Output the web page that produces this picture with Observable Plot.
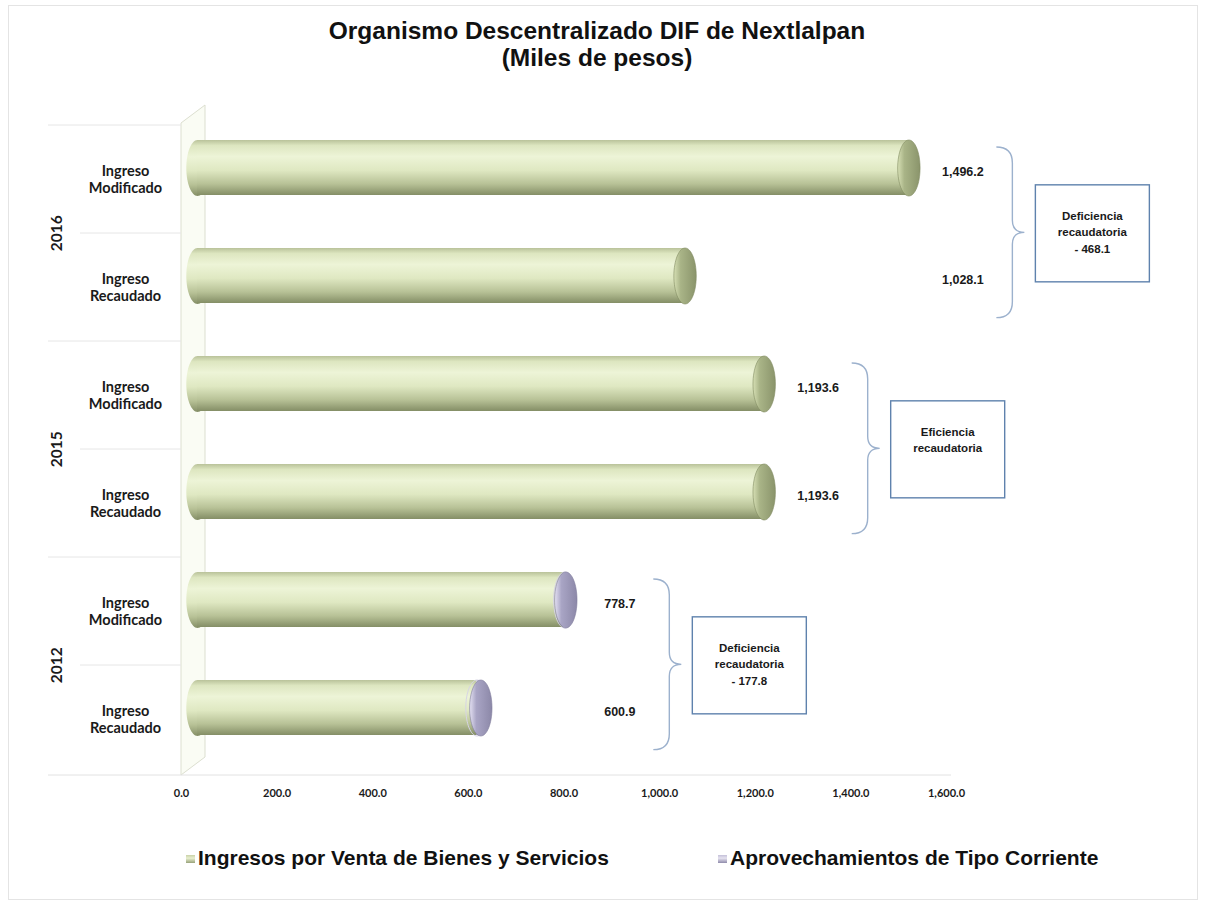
<!DOCTYPE html>
<html>
<head>
<meta charset="utf-8">
<script src="https://cdn.jsdelivr.net/npm/d3@7"></script>
<script src="https://cdn.jsdelivr.net/npm/@observablehq/plot@0.6"></script>
<style>
  body { margin: 0; background: #fff; }
  #wrap { position: relative; width: 1206px; height: 905px; overflow: hidden; font-family: "Liberation Sans", Arial, sans-serif; color: #111; }
  #border { position: absolute; left: 8px; top: 5px; width: 1188px; height: 893px; border: 1px solid #e4e4e4; }
  #title { position: absolute; left: 0; top: 17px; width: 1194px; text-align: center; font-weight: bold; font-size: 24.5px; line-height: 27px; }
  #chart { position: absolute; left: 0; top: 80px; }
  .leg { position: absolute; top: 845px; font-weight: bold; font-size: 21px; line-height: 26px; white-space: nowrap; }
  .sw { display: inline-block; width: 9px; height: 8px; margin-right: 3px; vertical-align: 2px; }
</style>
</head>
<body>
<div id="wrap">
  <div id="border"></div>
  <div id="title"></div>
  <div id="chart"></div>
  <div id="leg1" class="leg" style="left:186px"></div>
  <div id="leg2" class="leg" style="left:718px"></div>
</div>
<script>
// ---------- data ----------
const titleLines = ["Organismo Descentralizado DIF de Nextlalpan", "(Miles de pesos)"];
const years = ["2016", "2015", "2012"];
const concepts = ["Ingreso Modificado", "Ingreso Recaudado"];
const totalValues = [1496.2, 1028.1, 1193.6, 1193.6, 778.7, 600.9];
const ventaValues = [1496.2, 1028.1, 1193.6, 1193.6, 776.7, 592.9];
const aprovValues = [0, 0, 0, 0, 2.0, 8.0];
const notes = [
  ["Deficiencia", "recaudatoria", "- 468.1"],
  ["Eficiencia", "recaudatoria"],
  ["Deficiencia", "recaudatoria", "- 177.8"]
];
const xTicks = [0, 200, 400, 600, 800, 1000, 1200, 1400, 1600];
const seriesNames = ["Ingresos por Venta de Bienes y Servicios", "Aprovechamientos de Tipo Corriente"];

// ---------- table built from arrays ----------
const rows = [];
years.forEach((yr, i) => concepts.forEach((c, j) => {
  const k = i * 2 + j;
  rows.push({year: yr, concept: c, key: yr + "|" + c, total: totalValues[k], venta: ventaValues[k], aprov: aprovValues[k]});
}));
const groups = years.map((yr, i) => ({
  year: yr,
  max: d3.max(rows.filter(r => r.year === yr), r => r.total),
  keys: concepts.map(c => yr + "|" + c),
  note: notes[i]
}));
rows.forEach(r => r.groupMax = groups.find(g => g.year === r.year).max);
const keys = rows.map(r => r.key);

// ---------- layout ----------
const W = 1206, H = 730, ML = 181, MR = 260, MT = 43, MB = 35;
const BW = (H - MT - MB) / keys.length;
const insetT = 15, insetB = 38;
const barMid = (insetT - insetB) / 2;
const depth = 12;

document.getElementById("title").innerHTML = titleLines.map(t => `<div>${t}</div>`).join("");
document.getElementById("leg1").innerHTML = `<span class="sw" style="background:linear-gradient(#c9d1a8,#e9f0d0 40%,#98a27a)"></span>${seriesNames[0]}`;
document.getElementById("leg2").innerHTML = `<span class="sw" style="background:linear-gradient(#c4c0d8,#e6e3f0 40%,#8f8bab)"></span>${seriesNames[1]}`;

const ellipse = {
  draw(ctx, size) {
    const r = Math.sqrt(size / Math.PI), rx = r * 0.4, ry = r, k = 0.5523;
    ctx.moveTo(0, -ry);
    ctx.bezierCurveTo(k * rx, -ry, rx, -k * ry, rx, 0);
    ctx.bezierCurveTo(rx, k * ry, k * rx, ry, 0, ry);
    ctx.bezierCurveTo(-k * rx, ry, -rx, k * ry, -rx, 0);
    ctx.bezierCurveTo(-rx, -k * ry, -k * rx, -ry, 0, -ry);
    ctx.closePath();
  }
};

function defs() {
  const g = d3.create("svg:g");
  const d = g.append("defs");
  const lin = (id, stops, horiz) => {
    const lg = d.append("linearGradient").attr("id", id)
      .attr("x1", 0).attr("y1", 0).attr("x2", horiz ? 1 : 0).attr("y2", horiz ? 0 : 1);
    stops.forEach(([o, c]) => lg.append("stop").attr("offset", o).attr("stop-color", c));
  };
  lin("gV", [[0, "#b9c29a"], [0.1, "#dde6c0"], [0.3, "#edf4d7"], [0.55, "#dfe8c2"], [0.8, "#b7c196"], [1, "#848e66"]]);
  lin("gA", [[0, "#bcb8d2"], [0.1, "#dedbee"], [0.3, "#eceaf6"], [0.55, "#d6d3e8"], [0.8, "#aeaac8"], [1, "#85819f"]]);
  lin("capV", [[0, "#d6dfb4"], [0.3, "#a9b487"], [1, "#8a946b"]], true);
  lin("capA", [[0, "#e4e1f2"], [0.3, "#a9a5c5"], [1, "#8c88a8"]], true);
  lin("capL", [[0, "#8f9a70"], [0.5, "#c2cba0"], [1, "#dfe8c4"]], true);
  return g.node();
}

function decorations(index, scales, values, dims) {
  const {x, y} = scales;
  const g = d3.create("svg:g");
  const top = dims.marginTop, bottom = dims.height - dims.marginBottom, left = dims.marginLeft;
  // side wall (3D)
  g.append("path")
    .attr("d", `M${left},${top}L${left + 24},${top - 18}L${left + 24},${bottom - 18}L${left},${bottom}Z`)
    .attr("fill", "#fafcf4").attr("stroke", "#dcdfd0").attr("stroke-width", 1);
  // separators
  keys.forEach((k, i) => {
    const yy = y(k);
    g.append("line").attr("x1", i % 2 === 0 ? 48 : 80).attr("x2", left).attr("y1", yy).attr("y2", yy)
      .attr("stroke", "#e6e6e6");
  });
  g.append("line").attr("x1", 48).attr("x2", x(1600) + 5).attr("y1", bottom).attr("y2", bottom).attr("stroke", "#e2e2e2");
  // braces and boxes
  groups.forEach(gr => {
    const xm = x(gr.max);
    const gTop = y(gr.keys[0]), gBot = y(gr.keys[1]) + BW;
    const y0 = gTop + 22, y1 = gBot - 24, ym = (y0 + y1) / 2;
    const x0 = xm + 100, x1 = xm + 116, x2 = xm + 128;
    g.append("path")
      .attr("d", `M${x0},${y0}Q${x1},${y0} ${x1},${y0 + 16}L${x1},${ym - 12}Q${x1},${ym} ${x2},${ym}Q${x1},${ym} ${x1},${ym + 12}L${x1},${y1 - 16}Q${x1},${y1} ${x0},${y1}`)
      .attr("fill", "none").attr("stroke", "#9cb1cd").attr("stroke-width", 1.4);
    const bx = xm + 139, bw = 114, bh = 97, by = (gTop + gBot) / 2 - bh / 2;
    g.append("rect").attr("x", bx).attr("y", by).attr("width", bw).attr("height", bh)
      .attr("fill", "#fff").attr("stroke", "#5f82ad").attr("stroke-width", 1.4);
    const t = g.append("text").attr("text-anchor", "middle")
      .attr("font-family", "'Liberation Sans', Arial, sans-serif").attr("font-weight", "bold")
      .attr("font-size", 11.5).attr("fill", "#1a1a1a");
    gr.note.forEach((line, i) => {
      t.append("tspan").attr("x", bx + bw / 2).attr("y", by + 35 + i * 16.5).text(line);
    });
  });
  return g.node();
}

const chart = Plot.plot({
  width: W, height: H,
  marginLeft: ML, marginRight: MR, marginTop: MT, marginBottom: MB,
  style: {background: "transparent", overflow: "visible", color: "#1a1a1a"},
  x: {domain: [0, 1600], axis: null},
  y: {domain: keys, padding: 0, axis: null},
  marks: [
    defs,
    decorations,
    Plot.axisX({ticks: xTicks, tickFormat: d3.format(",.1f"), tickSize: 0, tickPadding: 14,
      fontFamily: "Lato", fontWeight: "bold", fontSize: 11, label: null}),
    Plot.axisY({tickSize: 0, tickPadding: 56, textAnchor: "middle", lineHeight: 1.17,
      tickFormat: k => k.split("|")[1].replace(" ", "\n"),
      fontFamily: "Lato", fontWeight: "bold", fontSize: 14.5, label: null}),
    // year labels
    Plot.text(groups, {y: d => d.keys[1], text: "year", frameAnchor: "left", dx: -124, dy: -BW / 2,
      rotate: -90, textAnchor: "middle", fontFamily: "Lato", fontWeight: "bold", fontSize: 15.5, fill: "#1a1a1a"}),
    // left rounded end of the cylinders
    Plot.dot(rows, {x: () => 0, y: "key", symbol: ellipse, r: 28, dx: depth + 4, dy: barMid, fill: "url(#gV)", stroke: "none"}),
    // cylinder bodies
    Plot.barX(rows, {x1: () => 0, x2: "venta", y: "key", dx: depth, insetLeft: 4, insetTop: insetT, insetBottom: insetB, fill: "url(#gV)"}),
    Plot.barX(rows.filter(r => r.aprov > 0), {x1: "venta", x2: "total", y: "key", dx: depth, insetTop: insetT, insetBottom: insetB, fill: "url(#gA)"}),
    Plot.dot(rows.filter(r => r.aprov > 0), {x: "venta", y: "key", symbol: ellipse, r: 28, dx: depth, dy: barMid, fill: "none", stroke: "#d7d4e6", strokeWidth: 1}),
    // end caps
    Plot.dot(rows.filter(r => r.aprov === 0), {x: "total", y: "key", symbol: ellipse, r: 28, dx: depth, dy: barMid, fill: "url(#capV)", stroke: "#7f8a60", strokeWidth: 0.6}),
    Plot.dot(rows.filter(r => r.aprov > 0), {x: "total", y: "key", symbol: ellipse, r: 28, dx: depth, dy: barMid, fill: "url(#capA)", stroke: "#807c9c", strokeWidth: 0.6}),
    // value labels
    Plot.text(rows, {x: "groupMax", y: "key", text: d => d3.format(",.1f")(d.total), dx: 66, dy: -8,
      textAnchor: "middle", fontFamily: "Liberation Sans", fontWeight: "bold", fontSize: 12.5, fill: "#1a1a1a"})
  ]
});
document.getElementById("chart").appendChild(chart);
</script>
</body>
</html>
